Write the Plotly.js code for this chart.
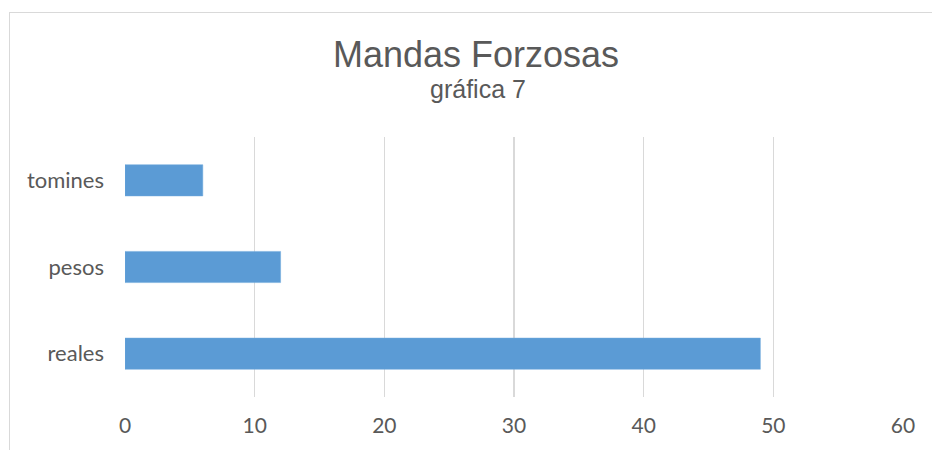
<!DOCTYPE html>
<html>
<head>
<meta charset="utf-8">
<script src="https://cdn.plot.ly/plotly-3.0.1.min.js"></script>
<style>
  html, body { margin:0; padding:0; background:#fff; }
  #wrap { position:relative; width:932px; height:450px; overflow:hidden; }
  #chart { width:932px; height:450px; }
  #frame { position:absolute; left:9px; top:12px; width:1000px; height:1000px;
           border:1px solid #d9d9d9; pointer-events:none; }
</style>
</head>
<body>
<div id="wrap">
  <div id="chart"></div>
  <div id="frame"></div>
</div>
<script>
const categories = ['reales', 'pesos', 'tomines'];
const values = [49, 12, 6];
const xTicks = [0, 10, 20, 30, 40, 50, 60];
const titleText = 'Mandas Forzosas';
const subtitleText = 'gráfica 7';

const textColor = '#595959';

Plotly.newPlot('chart', [{
  type: 'bar',
  orientation: 'h',
  y: categories,
  x: values,
  marker: { color: '#5B9BD5', line: { color: '#6fa8dc', width: 0.5 } },
  hoverinfo: 'x+y'
}], {
  width: 932, height: 450,
  margin: { l: 125, r: 29, t: 137, b: 53 },
  paper_bgcolor: '#fff', plot_bgcolor: '#fff',
  bargap: 0.64,
  showlegend: false,
  title: {
    text: titleText,
    font: { family: 'Liberation Sans, Arial, sans-serif', size: 36, color: textColor },
    x: 476/932, xanchor: 'center', xref: 'container',
    y: 1 - 54/450, yanchor: 'middle', yref: 'container'
  },
  annotations: [{
    text: subtitleText,
    xref: 'paper', yref: 'paper',
    x: (478 - 125) / 778, y: (397 - 89) / 260,
    xanchor: 'center', yanchor: 'middle',
    showarrow: false,
    font: { family: 'Liberation Sans, Arial, sans-serif', size: 25, color: textColor }
  }],
  xaxis: {
    range: [0, 60],
    tickvals: xTicks,
    ticktext: xTicks.map(String),
    showgrid: true, gridcolor: '#d9d9d9', gridwidth: 1.5,
    zeroline: false, showline: false, ticks: '',
    ticklabelstandoff: 14,
    tickfont: { family: 'Lato, Carlito, sans-serif', size: 21, color: textColor },
    fixedrange: true
  },
  yaxis: {
    categoryorder: 'array', categoryarray: categories,
    showgrid: false, zeroline: false, showline: false, ticks: '',
    ticklabelstandoff: 20,
    tickfont: { family: 'Lato, Carlito, sans-serif', size: 22, color: textColor },
    fixedrange: true
  }
}, { displayModeBar: false, staticPlot: true });
</script>
</body>
</html>
